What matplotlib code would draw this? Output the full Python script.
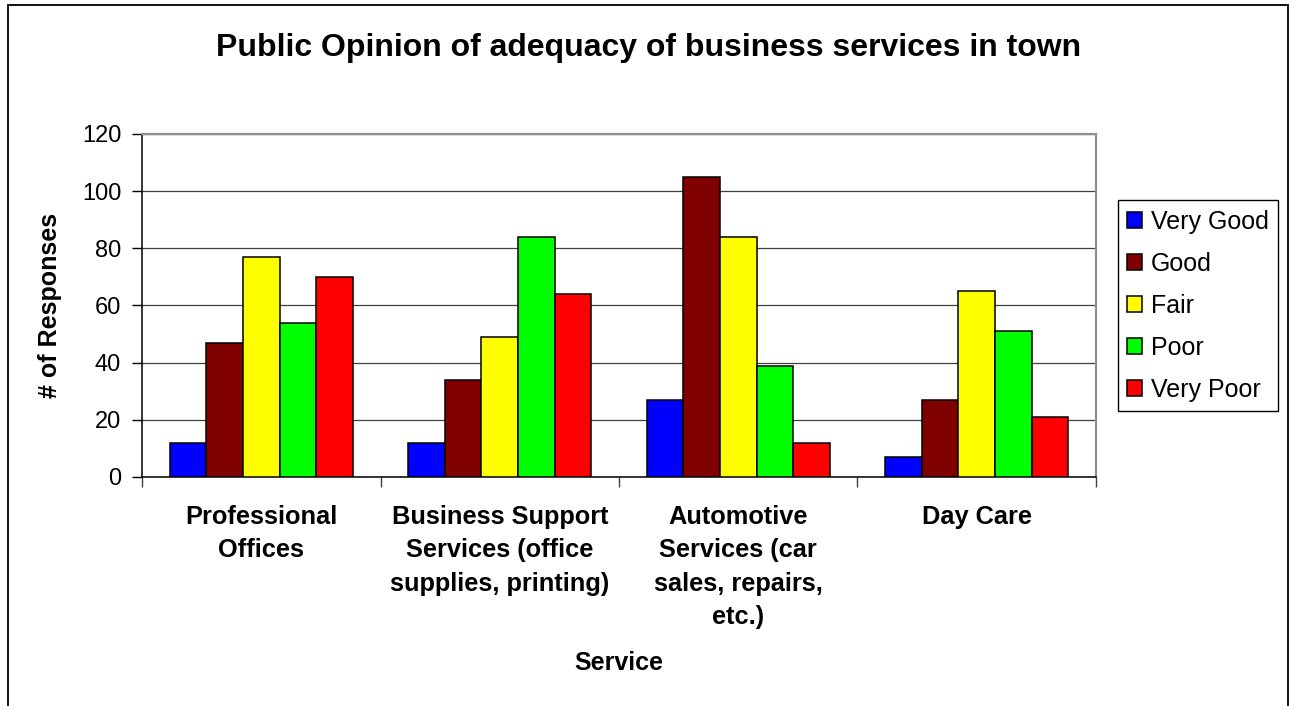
import numpy as np
import matplotlib.pyplot as plt
from matplotlib.patches import Rectangle

plt.rcParams['font.family'] = ['Liberation Sans', 'DejaVu Sans']

services = ['Professional\nOffices',
            'Business Support\nServices (office\nsupplies, printing)',
            'Automotive\nServices (car\nsales, repairs,\netc.)',
            'Day Care']
ratings = ['Very Good', 'Good', 'Fair', 'Poor', 'Very Poor']

very_good = [12, 12, 27, 7]
good = [47, 34, 105, 27]
fair = [77, 49, 84, 65]
poor = [54, 84, 39, 51]
very_poor = [70, 64, 12, 21]

colors = ['#0000FF', '#800000', '#FFFF00', '#00FF00', '#FF0000']
series = [very_good, good, fair, poor, very_poor]

fig = plt.figure(figsize=(12.9, 7.06), dpi=100)
ax = fig.add_axes([0.1101, 0.3244, 0.7395, 0.4858])

x = np.arange(len(services))
w = 1 / 6.5  # excel style gap width 150%
for i in range(len(series)):
    ax.bar(x + (i - 2) * w, series[i], width=w, color=colors[i],
           edgecolor='black', linewidth=1.1, label=ratings[i], zorder=3)

ax.set_xlim(-0.5, len(services) - 0.5)
ax.set_ylim(0, 120)
ax.set_yticks(np.arange(0, 121, 20))
ax.yaxis.grid(True, color='#404040', linewidth=0.9, zorder=0)

# category labels in the middle, tick marks between categories
ax.set_xticks(x)
ax.set_xticklabels(services, fontsize=18.3, fontweight='bold', linespacing=1.5)
ax.set_xticks(np.arange(-0.5, len(services)), minor=True)
ax.tick_params(axis='x', which='major', length=0, pad=20)
ax.tick_params(axis='x', which='minor', length=7, width=1, color='#404040')
ax.tick_params(axis='y', length=7, width=1, labelsize=17, pad=8)

for s in ['top', 'right']:
    ax.spines[s].set_color('#909090')
    ax.spines[s].set_linewidth(1.6)
for s in ['left', 'bottom']:
    ax.spines[s].set_color('black')
    ax.spines[s].set_linewidth(1.1)

ax.set_xlabel('Service', fontsize=18, fontweight='bold', labelpad=16)
ax.set_ylabel('# of Responses', fontsize=18, fontweight='bold', labelpad=14)
fig.text(0.503, 0.932, 'Public Opinion of adequacy of business services in town',
         ha='center', va='center', fontsize=23, fontweight='bold')

leg = ax.legend(loc='upper left', bbox_to_anchor=(0.8665, 0.7167),
                bbox_transform=fig.transFigure, borderaxespad=0,
                fontsize=18, fancybox=False, framealpha=1,
                handlelength=0.6, handleheight=0.6, handletextpad=0.35,
                labelspacing=0.72, borderpad=0.38)
leg.get_frame().set_edgecolor('black')
leg.get_frame().set_linewidth(1.0)

# outer chart border
fig.patches.append(Rectangle((7.5 / 1290, -0.1), 1280 / 1290, 1.1 - 5 / 706,
                             transform=fig.transFigure, fill=False,
                             edgecolor='black', linewidth=1.3))

plt.savefig('out.png', dpi=100)
